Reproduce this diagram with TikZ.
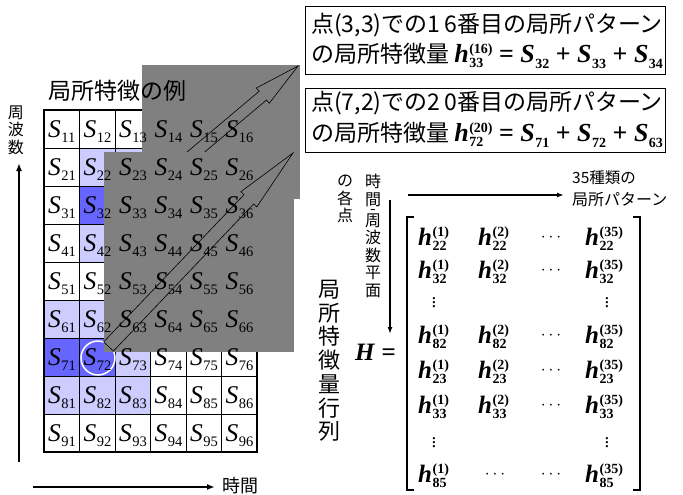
\documentclass[tikz,border=0pt]{standalone}
\usepackage{fontspec}
\setmainfont{Liberation Serif}
\newfontfamily\jp{Noto Sans CJK JP}
\usetikzlibrary{calc,arrows.meta}
\definecolor{lav}{RGB}{204,204,255}
\definecolor{blu}{RGB}{102,102,255}
\definecolor{grr}{RGB}{128,128,128}
\newcommand\Sl[1]{{\fontsize{25.5}{25}\selectfont\itshape S}\kern0.5pt\raisebox{-5pt}{\fontsize{14.5}{14}\selectfont #1}}
\newcommand\supsub[2]{{\fontsize{14}{14}\selectfont\bfseries
\setbox0=\hbox{\raisebox{9pt}{#1}}\setbox2=\hbox{\raisebox{-5pt}{#2}}%
\ifdim\wd0>\wd2 \rlap{\copy2}\copy0 \else\rlap{\copy0}\copy2 \fi}}
\newcommand\bh[2]{\textbf{\textit{h}}\kern0.5pt\supsub{(#1)}{#2}}
\newcommand\bS[1]{\textbf{\textit{S}}\kern0.5pt\raisebox{-6pt}{\fontsize{14}{14}\selectfont\bfseries #1}}
\newcommand\bigarrowpath[5]{% tail, tip, shaft half width, head half width, head length
  \coordinate (ah) at ($(#2)!#5!(#1)$);
  \draw[bigarrow] ($(#1)!#3!90:(#2)$) -- ($(ah)!#3!90:(#2)$) -- ($(ah)!#4!90:(#2)$) -- (#2)
    -- ($(ah)!#4!-90:(#2)$) -- ($(ah)!#3!-90:(#2)$) -- ($(#1)!#3!-90:(#2)$) -- cycle;}
\tikzset{
  slab/.style={anchor=base west, inner sep=0pt},
  gridthin/.style={line width=0.8pt},
  gridouter/.style={line width=2pt},
  graybox/.style={fill=grr},
  bigarrow/.style={draw=black, line width=0.6pt},
  jpf/.style={font=\jp\fontsize{#1}{#1}\selectfont, inner sep=0pt},
  vjp/.style n args={2}{font=\jp\fontsize{#1}{#2}\selectfont, inner sep=0pt, align=center},
  eqbox/.style={draw, line width=1.2pt, inner sep=0pt, minimum width=360pt, minimum height=68pt, anchor=north west},
  axis/.style={line width=2pt, -{Latex[length=8pt,width=6pt]}},
  maxis/.style={line width=1.4pt, -{Latex[length=7pt,width=5pt]}},
  ment/.style={anchor=base west, inner sep=0pt, font=\fontsize{25}{25}\selectfont},
  dots/.style={inner sep=0pt, font=\fontsize{19}{19}\selectfont},
}
\begin{document}
\begin{tikzpicture}[x=1pt,y=-1pt]
\useasboundingbox (0,0) rectangle (683,495);
% cell fills
\foreach \r/\c in {2/2,2/3,2/4,4/2,4/3,4/4,6/1,6/2,7/3,8/1,8/2,8/3}
  \fill[lav] ({44+35.5*(\c-1)},{110+38*(\r-1)}) rectangle ++(35.5,38);
\foreach \r/\c in {3/2,3/3,3/4,7/1,7/2,6/3}
  \fill[blu] ({44+35.5*(\c-1)},{110+38*(\r-1)}) rectangle ++(35.5,38);
% grid
\foreach \i in {1,...,5} \draw[gridthin] ({44+35.5*\i},110) -- ({44+35.5*\i},452);
\foreach \j in {1,...,8} \draw[gridthin] (44,{110+38*\j}) -- (257,{110+38*\j});
\draw[gridouter] (44,110) rectangle (257,452);
% circle at S72
\draw[white, line width=1.5pt] (98,358) circle (17);
% gray box 1 and arrow 1
\fill[graybox] (142,65) rectangle (300,199);
\coordinate (t1) at (133,205);
\coordinate (p1) at (298,66);
\bigarrowpath{t1}{p1}{5.7pt}{10pt}{46pt}
% gray box 2 and arrow 2
\fill[graybox] (104,152) rectangle (294,352);
\coordinate (t2) at (108.5,346.5);
\coordinate (p2) at (293,153);
\bigarrowpath{t2}{p2}{6.7pt}{11pt}{64pt}
% labels
\foreach \r in {1,...,9}
  \foreach \c in {1,...,6}
    \node[slab] (s\r\c) at ({44+35.5*(\c-1)+4},{110+38*\r-11}) {\Sl{\r\c}};
% title
\node[jpf=23] (title) at (117,91) {局所特徴の例};
% axes left
\node[vjp={16}{17.5}] (fq) at (16,130) {周\\波\\数};
\coordinate (fa) at (19,462);
\coordinate (fb) at (19,163);
\draw[axis] (fa) -- (fb);
\coordinate (ta) at (33,487);
\coordinate (tb) at (215,487);
\draw[axis] (ta) -- (tb);
\node[jpf=18, anchor=west] (time) at (222,486) {時間};
% equation boxes
\node[eqbox] (box1) at (305,6) {};
\node[jpf=23, anchor=west] (b1a) at (311,25) {点(3,3)での1\,6番目の局所パターン};
\node[anchor=base west, inner sep=0pt, font=\jp\fontsize{23}{23}\selectfont] (b1b) at (311,63)
  {の局所特徴量 {\rmfamily\fontsize{26}{26}\selectfont\bh{16}{33} \textbf{=} \bS{32} \textbf{+} \bS{33} \textbf{+} \bS{34}}};
\node[eqbox, minimum height=64pt] (box2) at (305,88) {};
\node[jpf=23, anchor=west] (b2a) at (311,103) {点(7,2)での2\,0番目の局所パターン};
\node[anchor=base west, inner sep=0pt, font=\jp\fontsize{23}{23}\selectfont] (b2b) at (311,141)
  {の局所特徴量 {\rmfamily\fontsize{26}{26}\selectfont\bh{20}{72} \textbf{=} \bS{71} \textbf{+} \bS{72} \textbf{+} \bS{63}}};
% matrix annotations
\node[vjp={16}{17.5}, anchor=north] (kaku) at (345,175) {の\\各\\点};
\node[vjp={16}{17.5}, anchor=north] (plane) at (373,174) {時\\間\\[-8.5pt]-\\[-5.5pt]周\\波\\数\\平\\面};
\coordinate (va) at (390,200);
\coordinate (vb) at (390,334);
\draw[maxis] (va) -- (vb);
\coordinate (ha) at (408,195);
\coordinate (hb) at (564,195);
\draw[maxis] (ha) -- (hb);
\node[jpf=15.5, anchor=west] (k35) at (572,178) {35種類の};
\node[jpf=16, anchor=west] (kpat) at (572,200) {局所パターン};
\node[vjp={22}{23.7}, anchor=north] (hmat) at (329,280) {局\\所\\特\\徴\\量\\行\\列};
\node[anchor=base west, inner sep=0pt, font=\fontsize{25}{25}\selectfont] (Heq) at (355,360) {\textbf{\textit{H}} \textbf{=}};
% brackets
\coordinate (lbt) at (407,217);
\coordinate (lbb) at (407,490);
\coordinate (rbt) at (640,217);
\coordinate (rbb) at (640,490);
\draw[line width=2pt] ($(lbt)+(7,0)$) -- (lbt) -- (lbb) -- ($(lbb)+(7,0)$);
\draw[line width=2pt] ($(rbt)+(-7,0)$) -- (rbt) -- (rbb) -- ($(rbb)+(-7,0)$);
% matrix entries
\foreach \n/\y/\sub in {1/245/22,2/278/32,4/343/82,5/378/23,6/413/33}{
  \node[ment] (m\n a) at (418,\y) {\bh{1}{\sub}};
  \node[ment] (m\n b) at (478,\y) {\bh{2}{\sub}};
  \node[dots] (m\n c) at (551,\y-7) {$\cdots$};
  \node[ment] (m\n d) at (585,\y) {\bh{35}{\sub}};
}
\node[dots] (v1a) at (434,300) {$\vdots$};
\node[dots] (v1d) at (607,300) {$\vdots$};
\node[dots] (v2a) at (434,440) {$\vdots$};
\node[dots] (v2d) at (607,440) {$\vdots$};
\node[ment] (m8a) at (418,482) {\bh{1}{85}};
\node[dots] (m8b) at (495,475) {$\cdots$};
\node[dots] (m8c) at (551,475) {$\cdots$};
\node[ment] (m8d) at (585,482) {\bh{35}{85}};
\end{tikzpicture}
\end{document}
